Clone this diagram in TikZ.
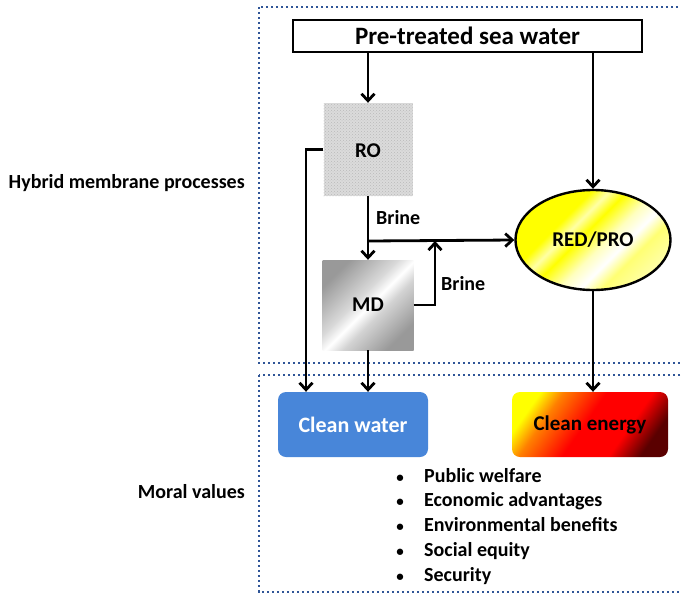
\documentclass[tikz,border=0pt]{standalone}
\usepackage{fontspec}
\setmainfont{Carlito}
\usetikzlibrary{arrows.meta,shapes.geometric,patterns}

\definecolor{framecol}{RGB}{47,85,151}
\definecolor{waterblue}{RGB}{72,134,217}
\definecolor{darkred}{RGB}{90,0,0}

% diagonal metal look for the MD unit
\pgfdeclarehorizontalshading{metal}{100bp}{color(0bp)=(gray!80); color(25bp)=(gray!80); color(44bp)=(gray!30); color(51bp)=(white); color(58bp)=(gray!35); color(75bp)=(gray!80); color(100bp)=(gray!80)}
% glossy yellow for the RED/PRO unit
\pgfdeclarehorizontalshading{glossy}{100bp}{color(0bp)=(yellow); color(25bp)=(yellow); color(36bp)=(yellow); color(41bp)=(yellow!35); color(46bp)=(yellow); color(54bp)=(yellow!25); color(60bp)=(white); color(66bp)=(yellow!55); color(75bp)=(yellow!35); color(100bp)=(yellow!35)}
% yellow to dark red for the energy output
\pgfdeclarehorizontalshading{energy}{100bp}{color(0bp)=(yellow); color(25bp)=(yellow); color(33bp)=(orange); color(48bp)=(red); color(64bp)=(red); color(75bp)=(darkred); color(100bp)=(darkred)}

\tikzset{
  frame/.style={draw=framecol, line width=2.6pt, dash pattern=on 2.4pt off 2.6pt},
  arr/.style={draw, line width=2.8pt, -{Straight Barb[length=7pt,width=13pt,line width=2.8pt]}},
  lbl/.style={font=\fontsize{20}{22}\selectfont\bfseries, inner sep=0pt},
  unit/.style={font=\fontsize{21}{23}\selectfont\bfseries, inner sep=0pt},
  outbox/.style={rounded corners=8pt, minimum width=150pt, minimum height=65pt, inner sep=0pt, font=\fontsize{22}{24}\selectfont\bfseries},
}

\begin{document}
\begin{tikzpicture}[x=1pt,y=-1pt]
\useasboundingbox (0,0) rectangle (681,595);
\clip (0,0) rectangle (681,595);

% dotted frames of the two levels
\path[frame] (259,7) rectangle (700,363);
\path[frame] (259,375) rectangle (700,592);

% side labels
\node[lbl, anchor=east] (hyb) at (245,183) {Hybrid membrane processes};
\node[lbl, anchor=east] (moral) at (245,492) {Moral values};

% feed
\node[draw, line width=2.8pt, minimum width=349pt, minimum height=32pt, inner sep=0pt,
      font=\fontsize{25}{27}\selectfont\bfseries] (src) at (467.5,36) {Pre-treated sea water};

% membrane units
\node[unit, minimum width=89pt, minimum height=93pt, preaction={fill=gray!28},
      pattern=crosshatch dots, pattern color=gray!55] (robox) at (368,149.5) {};
\node[unit] (ro) at (368,151) {RO};
\node[unit, minimum width=91pt, minimum height=90pt, shade, shading=metal, shading angle=-45] (md) at (368,305) {MD};
\node[unit, ellipse, draw, line width=2.4pt, minimum width=155pt, minimum height=100pt,
      shade, shading=glossy, shading angle=-45] (redpro) at (593,240) {RED/PRO};

% outputs
\node[outbox, fill=waterblue, text=white] (water) at (353,424.5) {Clean water};
\node[outbox, minimum width=156pt, shade, shading=energy, shading angle=-35,
      font=\fontsize{21}{23}\selectfont\bfseries] (energy) at (590,424.5) {Clean energy};

% flows
\coordinate (j1) at (368,241);
\coordinate (j2) at (435,241);
\draw[arr] (src.south -| robox.north) -- (robox.north);
\draw[arr] (src.south -| redpro.north) -- (redpro.north);
\draw[arr] (robox.south) -- (md.north);
\draw[arr] (j1) -- (redpro.west);
\draw[arr] (md.east) -| (j2);
\draw[arr] (robox.west) -| ([xshift=-47pt]water.north);
\draw[arr] (md.south) -- (md.south |- water.north);
\draw[arr] (redpro.south) -- (redpro.south |- energy.north);

\node[lbl, anchor=base west] (brine1) at (376,224) {Brine};
\node[lbl, anchor=base west] (brine2) at (441,290) {Brine};

% values
\foreach \t [count=\i] in {Public welfare, Economic advantages, Environmental benefits, Social equity, Security}{
  \node[lbl, font=\fontsize{15}{17}\selectfont\bfseries, anchor=base] (b\i) at (400,482+24.75*\i-24.75) {\textbullet};
  \node[lbl, anchor=base west] (v\i) at (424,482+24.75*\i-24.75) {\t};
}
\end{tikzpicture}
\end{document}
